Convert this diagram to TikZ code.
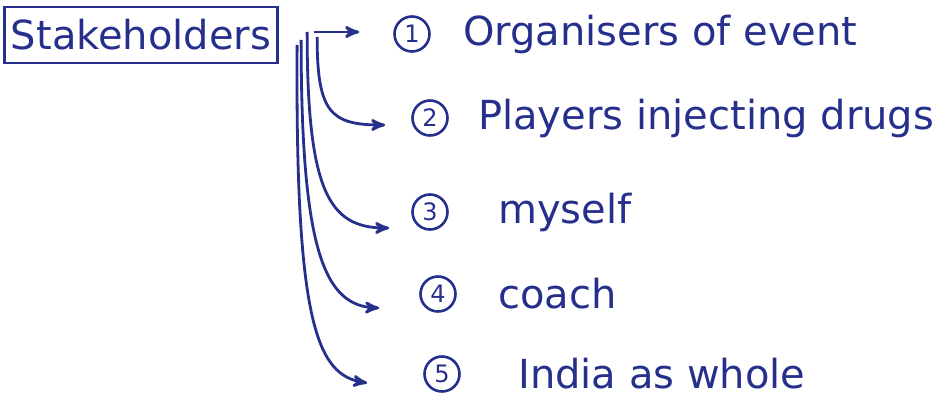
\documentclass[tikz,border=0pt]{standalone}
\usepackage{fontspec}
\setmainfont{DejaVu Sans}
\usepackage{tikz}
\usetikzlibrary{arrows,positioning,calc}
\definecolor{ink}{RGB}{38,48,140}
\tikzset{
  >=stealth',
  stakebox/.style={rectangle, draw=ink, line width=1.4pt, minimum width=129pt, minimum height=28pt,
                   text=ink, font=\fontsize{20}{24}\selectfont},
  numcircle/.style={circle, draw=ink, line width=1.3pt, minimum size=17.5pt, inner sep=0pt,
                    text=ink, font=\fontsize{12}{14}\selectfont},
  itemtext/.style={inner sep=0pt, text=ink, font=\fontsize{20}{24}\selectfont}
}
\tikzstyle{link} = [draw, line width=1.4pt, color=ink, ->]
\newcommand{\stakeitem}[3]{node (c#1) [numcircle] {#1} node (t#1) [itemtext, right=#2 of c#1] {#3}}

\begin{document}
\begin{tikzpicture}[x=0.5pt,y=-0.5pt]
  \useasboundingbox (0,0) rectangle (949,401);

  % Draw box and list of stakeholders
  \node (sh) [stakebox] at (141,35) {Stakeholders};
  \path (412,34) \stakeitem{1}{16pt}{Organisers of event};
  \path (430,118) \stakeitem{2}{14.5pt}{Players injecting drugs};
  \path (430,212) \stakeitem{3}{24.5pt}{myself};
  \path (438,294) \stakeitem{4}{20.5pt}{coach};
  \path (442,374) \stakeitem{5}{28.5pt}{India as whole};

  % Start and end points of arrows
  \coordinate (o1) at ($(sh.east)+(35,-3)$);
  \coordinate (o2) at ($(sh.east)+(38,2)$);
  \coordinate (o3) at ($(sh.east)+(28,-3)$);
  \coordinate (o4) at ($(sh.east)+(22,5)$);
  \coordinate (o5) at ($(sh.east)+(18,10)$);
  \coordinate (e1) at ($(c1.west)+(-34,-2)$);
  \coordinate (e2) at ($(c2.west)+(-26,7)$);
  \coordinate (e3) at ($(c3.west)+(-22,16)$);
  \coordinate (e4) at ($(c4.west)+(-40,14)$);
  \coordinate (e5) at ($(c5.west)+(-56,9)$);

  % Draw arrows
  \path [link] (o1) -- (e1);
  \path [link] (o2) .. controls +(0,75) and +(-55,0) .. (e2);
  \path [link] (o3) .. controls +(0,160) and +(-60,0) .. (e3);
  \path [link] (o4) .. controls +(0,210) and +(-55,-2) .. (e4);
  \path [link] (o5) .. controls +(-2,280) and +(-50,-8) .. (e5);
\end{tikzpicture}
\end{document}
